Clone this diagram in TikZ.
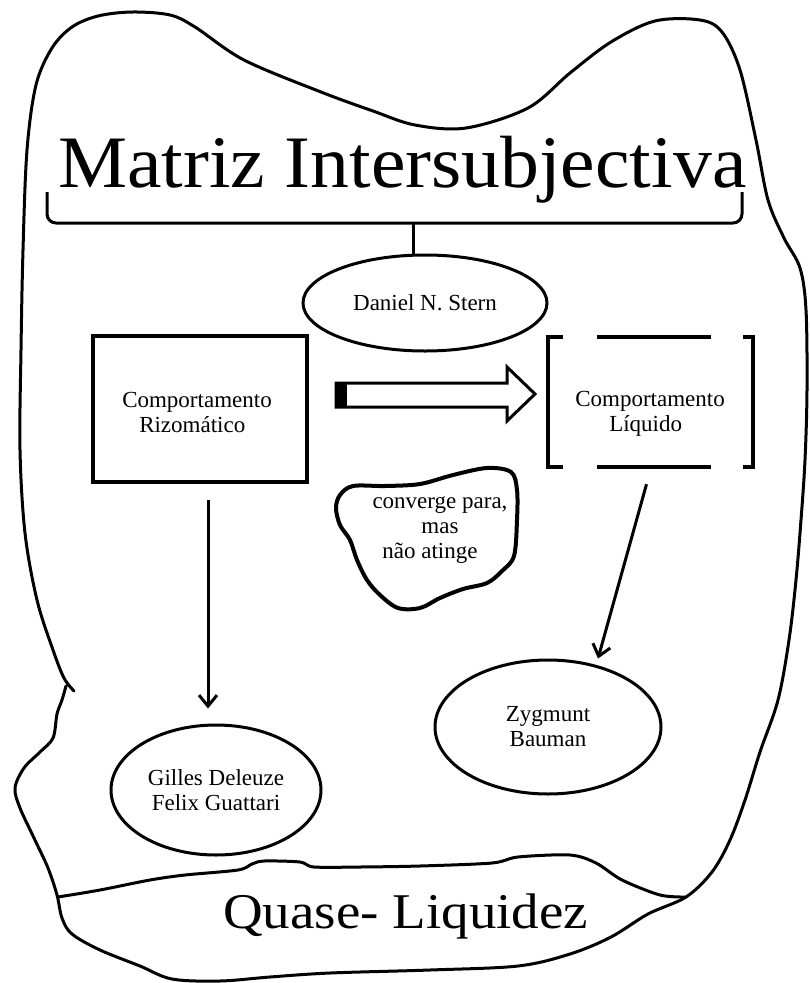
\documentclass[tikz,border=0pt]{standalone}
\usepackage{fontspec}
\setmainfont{Liberation Serif}
\usetikzlibrary{arrows.meta,shapes.geometric,calc}
\newcommand\smalltxt{\fontsize{23}{25}\selectfont}
\begin{document}
\begin{tikzpicture}[x=1pt,y=-1pt,
  outline/.style={line width=3pt, line join=round, line cap=round},
  oval/.style={ellipse, draw, line width=3pt, inner sep=0pt, font=\smalltxt, align=center},
  boxtxt/.style={font=\smalltxt, align=left, inner sep=0pt},
  arr/.style={line width=3pt, -{Straight Barb[length=11pt,width=18pt]}},
  bracket/.style={line width=4pt, line cap=butt, line join=miter},
]
\fill[white] (0,0) rectangle (809,983);
\useasboundingbox (0,0) rectangle (809,983);

% hand-drawn outer outline
\draw[outline] plot[smooth, tension=0.55] coordinates {
  (74,691) (64,678) (53,650) (37,600) (25,533) (20,450) (21,350) (23,250)
  (27,150) (36,85) (52,48) (72,27) (98,16) (132,12) (170,15) (195,27)
  (244,60) (321,92) (373,111) (415,125) (466,128) (528,108) (570,73)
  (611,42) (655,21) (700,20) (722,32) (740,70) (756,140) (768,200)
  (784,238) (800,268) (806,310) (807,390) (805,460) (801,520) (796,580)
  (789,640) (778,700) (760,752) (745,800) (730,840) (712,872) (686,897)
  (648,914) (611,937) (570,954) (518,966) (430,970) (330,973) (270,977)
  (220,981) (172,979) (140,966) (100,950) (72,934) (62,918) (57,895)
  (48,868) (34,838) (20,808) (15,788) (24,768) (40,752) (53,738)
  (57,714) (62,700) (66,686)};

% band holding the bottom label
\draw[outline] plot[smooth, tension=0.5] coordinates {
  (58,897) (100,890) (150,880) (185,875) (238,870) (252,864) (264,861)
  (300,862) (314,867) (360,867) (420,866) (492,863) (518,857) (570,855)
  (596,863) (622,880) (660,895) (686,897)};

% title and brace
\node[anchor=base west, inner sep=0pt] (title) at (58,187)
  {\scalebox{1.05}[1]{\fontsize{74}{80}\selectfont Matriz Intersubjectiva}};
\draw[line width=3pt, rounded corners=9pt] (47,192) -- (47,223) -- (742,223) -- (742,192);
\coordinate (bm) at (413,223);

% nodes
\node[oval, minimum width=244pt, minimum height=96pt] (stern) at (425,303) {Daniel N. Stern};
\draw[line width=3pt] (bm) -- (bm |- stern.north);

\node[draw, line width=4pt, minimum width=214pt, minimum height=146pt] (riz) at (200,409) {};
\node[boxtxt] at (197,412) {Comportamento\\\hspace*{17pt}Rizomático};

\node[minimum width=205pt, minimum height=130pt, inner sep=0pt] (liq) at (650.5,402) {};
\node[boxtxt] at (650,414) {Comportamento\\\hspace*{34pt}Líquido};
\draw[bracket] ([xshift=15pt]liq.north west) -- (liq.north west) -- (liq.south west) -- ([xshift=15pt]liq.south west);
\draw[bracket] ([xshift=-10pt]liq.north east) -- (liq.north east) -- (liq.south east) -- ([xshift=-10pt]liq.south east);
\draw[bracket] ([xshift=49pt]liq.north west) -- ([xshift=-42pt]liq.north east);
\draw[bracket] ([xshift=49pt]liq.south west) -- ([xshift=-42pt]liq.south east);

% hollow block arrow between the two behaviours
\draw[line width=3pt, line join=miter, fill=white]
  (336,383) -- (507,383) -- (507,367) -- (535,394) -- (507,421) -- (507,407) -- (336,407) -- cycle;
\fill (336,383) rectangle (347,407);

% irregular note
\draw[line width=4pt, line join=round] plot[smooth cycle, tension=0.55] coordinates {
  (353,486) (340,495) (336,508) (340,525) (350,540) (357,560) (367,580)
  (380,595) (398,608) (420,608) (440,598) (463,589) (487,583) (502,571)
  (514,556) (517,520) (517,490) (511,472) (487,468) (453,475) (420,484) (385,486)};
\node[font=\smalltxt, align=center, inner sep=0pt] (note) at (440,530)
  {converge para,\\mas\\\hspace*{-20pt}não atinge};

\node[oval, minimum width=210pt, minimum height=130pt] (gil) at (216,790)
  {Gilles Deleuze\\Felix Guattari};
\node[oval, minimum width=226pt, minimum height=134pt] (zyg) at (548,727)
  {Zygmunt\\Bauman};

% connectors
\draw[arr, shorten <=16pt, shorten >=15pt] ([xshift=8pt]riz.south) -- ([xshift=8pt]riz.south |- gil.north);
\draw[arr] ([shift={(-4pt,-17pt)}]liq.south) -- ([xshift=50pt]zyg.north);

% bottom label
\node[anchor=base west, inner sep=0pt] (quase) at (223,928)
  {\scalebox{1.1}[1]{\fontsize{50}{55}\selectfont Quase- Liquidez}};
\end{tikzpicture}
\end{document}
